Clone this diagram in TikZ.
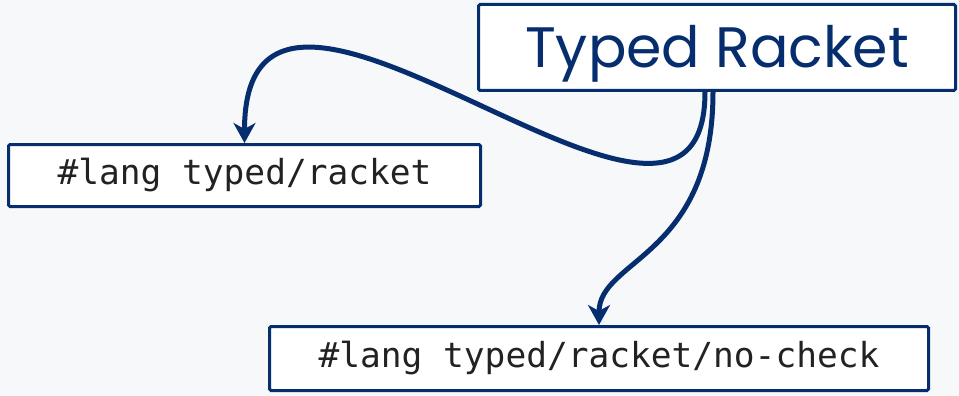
\documentclass[tikz,border=0pt]{standalone}
\usepackage{fontspec}
\usepackage{tikz}
\usetikzlibrary{arrows.meta, positioning}
\newfontfamily\headfont{Poppins}
\newfontfamily\codefont{DejaVu Sans Mono}
\definecolor{racketblue}{RGB}{6,46,110}
\definecolor{codegray}{RGB}{34,34,34}
\definecolor{pagebg}{RGB}{246,248,250}

\begin{document}
\begin{tikzpicture}[x=1pt, y=-1pt,
    box/.style={draw=racketblue, line width=3pt, fill=white, rounded corners=1.5pt, inner sep=0pt},
    codebox/.style={box, text=codegray, font=\codefont\fontsize{34.5}{34.5}\selectfont},
    link/.style={draw=racketblue, line width=5pt, -{Stealth[length=20pt, width=22pt, inset=6pt]}}]
      % Background
      \fill[pagebg] (0,0) rectangle (959,396);
      \useasboundingbox (0,0) rectangle (959,396);

      % Nodes
      \node[box, text=racketblue, font=\headfont\fontsize{57}{57}\selectfont, text height=41pt, text depth=0pt, minimum width=477pt, minimum height=86pt] (tr) at (717,47.5) {Typed Racket};
      \node[codebox, minimum width=472pt, minimum height=62pt] (tr-lang) at (244.5,175.5) {\#lang typed/racket};
      \node[codebox, minimum width=659pt, minimum height=64pt] (tr-nocheck) at (599,358.5) {\#lang typed/racket/no-check};

      % Arrows
      \draw[link] ([xshift=-12pt]tr.south) .. controls +(0,240) and +(0,-275) .. (tr-lang.north);
      \draw[link] ([xshift=-4pt]tr.south) .. controls +(0,165) and +(0,-66) .. (tr-nocheck.north);
\end{tikzpicture}
\end{document}
